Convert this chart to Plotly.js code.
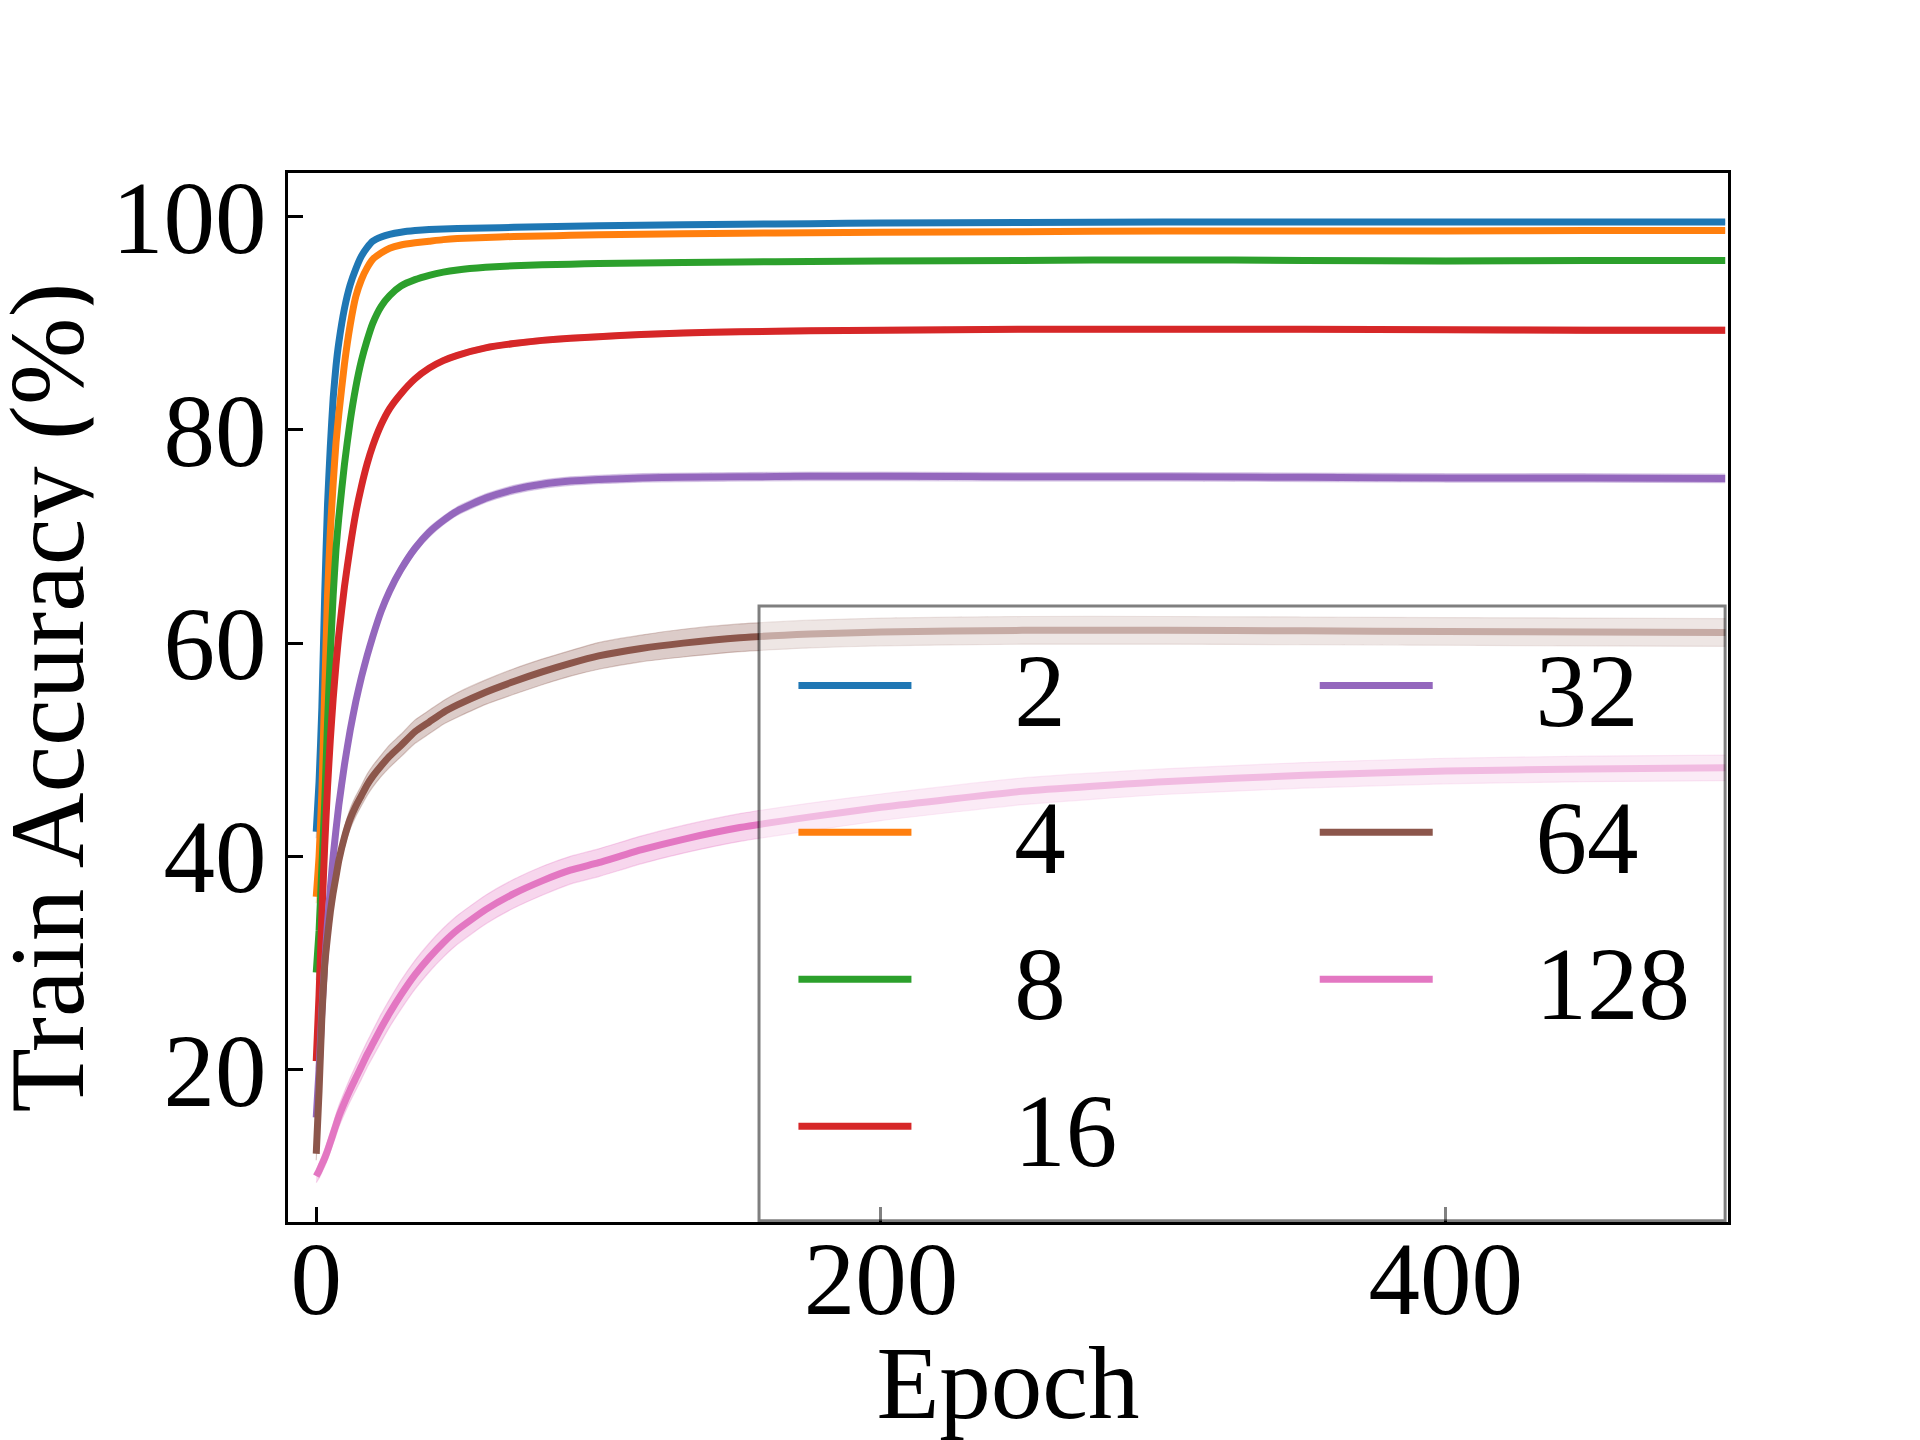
<!DOCTYPE html>
<html>
<head>
<meta charset="utf-8">
<script src="https://cdn.plot.ly/plotly-3.0.1.min.js"></script>
<style>
html,body{margin:0;padding:0;background:#ffffff;}
#chart{width:1920px;height:1440px;}
</style>
</head>
<body>
<div id="chart"></div>
<script>
// ---- data ----
const epochs = [0,1,2,3,4,5,6,7,8,10,12,14,16,18,20,23,26,30,35,40,45,50,60,70,80,90,100,115,130,150,175,200,250,300,350,400,450,499];

const seriesNames = ['2','4','8','16','32','64','128'];
const seriesColors = ['#1f77b4','#ff7f0e','#2ca02c','#d62728','#9467bd','#8c564b','#e377c2'];

const acc2 = [42.3,47,54,64.5,73,78.5,83,86,88.2,91.4,93.6,95.1,96.3,97.1,97.7,98.1,98.35,98.55,98.7,98.8,98.85,98.9,98.95,99.0,99.05,99.1,99.15,99.2,99.25,99.3,99.35,99.4,99.45,99.5,99.5,99.5,99.5,99.5];
const acc4 = [36.2,40,46,55.5,64.5,70.5,75,78.8,81.5,86.2,89.8,92.5,94.1,95.2,96.0,96.6,97.05,97.35,97.55,97.7,97.85,97.95,98.05,98.15,98.2,98.25,98.3,98.35,98.4,98.45,98.5,98.55,98.6,98.65,98.65,98.65,98.7,98.7];
const acc8 = [29.1,33,39,45,52.5,59,64.5,68.8,71.8,76.8,80.8,84,86.5,88.4,90.0,91.6,92.6,93.5,94.1,94.5,94.8,95.0,95.25,95.4,95.5,95.55,95.6,95.65,95.7,95.75,95.8,95.85,95.9,95.95,95.9,95.85,95.9,95.9];
const acc16 = [20.8,27,34.5,41,46.5,51,54.8,58,60.8,65.3,69,72.2,74.7,76.8,78.5,80.5,82.0,83.4,84.8,85.8,86.5,87.0,87.7,88.1,88.4,88.6,88.75,88.95,89.1,89.2,89.3,89.35,89.45,89.45,89.45,89.4,89.35,89.35];
const acc32 = [15.5,20,25.5,30,33.8,37,40,42.5,44.8,48.6,51.8,54.5,56.8,58.8,60.6,63.0,64.9,66.9,68.9,70.4,71.5,72.4,73.6,74.4,74.9,75.2,75.35,75.5,75.55,75.6,75.65,75.65,75.6,75.6,75.55,75.5,75.5,75.45];
const acc64 = [12.1,18,25,29.8,32.5,34.8,36.6,38.1,39.6,41.8,43.5,44.7,45.7,46.7,47.5,48.5,49.4,50.4,51.7,52.6,53.5,54.2,55.4,56.4,57.3,58.1,58.8,59.5,60.0,60.5,60.85,61.05,61.2,61.2,61.15,61.1,61.05,61.0];
const acc128 = [10.0,10.5,11.1,11.7,12.4,13.2,14.0,14.8,15.6,16.9,18.1,19.2,20.3,21.4,22.4,23.9,25.3,27.0,28.9,30.5,31.9,33.1,35.0,36.5,37.7,38.7,39.4,40.6,41.6,42.7,43.7,44.6,46.1,47.0,47.6,48.0,48.2,48.3];

// spread (± std)
const std2 = [0.6,0.6,0.6,0.5,0.5,0.45,0.4,0.35,0.3,0.3,0.25,0.25,0.2,0.2,0.2,0.2,0.2,0.15,0.15,0.15,0.15,0.15,0.15,0.15,0.15,0.15,0.15,0.15,0.15,0.15,0.15,0.15,0.15,0.15,0.15,0.15,0.15,0.15];
const std4 = [0.6,0.6,0.6,0.5,0.5,0.45,0.4,0.35,0.3,0.3,0.25,0.25,0.2,0.2,0.2,0.2,0.2,0.15,0.15,0.15,0.15,0.15,0.15,0.15,0.15,0.15,0.15,0.15,0.15,0.15,0.15,0.15,0.15,0.15,0.15,0.15,0.15,0.15];
const std8 = [0.7,0.7,0.6,0.6,0.5,0.5,0.45,0.4,0.4,0.35,0.3,0.3,0.3,0.25,0.25,0.25,0.2,0.2,0.2,0.2,0.2,0.2,0.2,0.2,0.2,0.2,0.2,0.2,0.2,0.2,0.2,0.2,0.2,0.2,0.25,0.25,0.25,0.25];
const std16 = [0.8,0.7,0.7,0.6,0.6,0.5,0.5,0.45,0.45,0.4,0.4,0.35,0.35,0.3,0.3,0.3,0.3,0.25,0.25,0.25,0.25,0.25,0.25,0.25,0.25,0.25,0.25,0.25,0.25,0.25,0.25,0.25,0.25,0.25,0.25,0.25,0.3,0.3];
const std32 = [0.8,0.7,0.6,0.6,0.55,0.55,0.5,0.5,0.5,0.5,0.5,0.5,0.5,0.5,0.45,0.45,0.45,0.45,0.45,0.45,0.4,0.4,0.4,0.4,0.4,0.4,0.4,0.4,0.4,0.4,0.4,0.4,0.4,0.4,0.4,0.4,0.4,0.4];
const std64 = [0.6,0.7,0.8,0.8,0.8,0.85,0.85,0.9,0.9,0.9,0.95,0.95,0.95,1.0,1.0,1.0,1.05,1.05,1.1,1.1,1.1,1.15,1.15,1.2,1.2,1.2,1.25,1.25,1.3,1.3,1.3,1.3,1.3,1.3,1.3,1.3,1.3,1.3];
const std128 = [0.6,0.7,0.75,0.8,0.85,0.9,0.95,1.0,1.0,1.05,1.1,1.15,1.2,1.2,1.25,1.3,1.3,1.35,1.35,1.35,1.35,1.35,1.35,1.35,1.35,1.3,1.3,1.3,1.3,1.3,1.3,1.25,1.25,1.2,1.2,1.2,1.2,1.2];

const xTicks = [0,200,400];
const yTicks = [20,40,60,80,100];
const xTitle = 'Epoch';
const yTitle = 'Train Accuracy (%)';

// ---- build traces ----
const means = [acc2,acc4,acc8,acc16,acc32,acc64,acc128];
const stds = [std2,std4,std8,std16,std32,std64,std128];

function rgba(hex, a){
  const r = parseInt(hex.slice(1,3),16), g = parseInt(hex.slice(3,5),16), b = parseInt(hex.slice(5,7),16);
  return 'rgba('+r+','+g+','+b+','+a+')';
}

const FONT = '"Liberation Serif", "Times New Roman", Times, serif';
// spacing between the legend handle and its label
const LABEL_PAD = '\u2002\u00a0\u2009';

const traces = [];
seriesNames.forEach(function(name, i){
  const c = seriesColors[i];
  const lo = means[i].map(function(v,k){return v - stds[i][k];});
  const hi = means[i].map(function(v,k){return v + stds[i][k];});
  const grp = 'g' + name;
  const lg = i < 4 ? 'legend' : 'legend2';
  traces.push({x: epochs, y: lo, type:'scatter', mode:'lines',
    line:{color: rgba(c,0.3), width:1.2, shape:'spline', smoothing:0.5},
    showlegend:false, legendgroup:grp, hoverinfo:'skip', legend: lg});
  traces.push({x: epochs, y: hi, type:'scatter', mode:'lines',
    line:{color: rgba(c,0.3), width:1.2, shape:'spline', smoothing:0.5},
    fill:'tonexty', fillcolor: rgba(c,0.3), showlegend:false, legendgroup:grp, hoverinfo:'skip', legend: lg});
  traces.push({x: epochs, y: means[i], type:'scatter', mode:'lines', name: LABEL_PAD + name,
    line:{color: c, width:7, shape:'spline', smoothing:0.5}, legendgroup:grp, legend: lg});
});

const legendCommon = {
  xref:'paper', yref:'paper', xanchor:'left', yanchor:'top',
  bgcolor:'rgba(0,0,0,0)', borderwidth:0,
  font:{family: FONT, size:103, color:'#000'},
  itemwidth: 113, tracegroupgap: 10, traceorder:'grouped'
};

const layout = {
  width:1920, height:1440,
  paper_bgcolor:'#ffffff', plot_bgcolor:'#ffffff',
  margin:{l:288, r:192, t:173, b:218, pad:0},
  font:{family: FONT, size:103, color:'#000'},
  showlegend:true,
  xaxis:{
    range:[-10,500], tickvals:xTicks, ticktext:xTicks.map(String),
    ticks:'inside', ticklen:15, tickwidth:3, tickcolor:'#000',
    showline:true, linewidth:3, linecolor:'#000', mirror:true,
    showgrid:false, zeroline:false,
    tickfont:{family: FONT, size:103, color:'#000'},
    ticklabelstandoff: -35,
    title:{text:xTitle, font:{family: FONT, size:103, color:'#000'}}
  },
  yaxis:{
    range:[5.7,104.1], tickvals:yTicks, ticktext:yTicks.map(String),
    ticks:'inside', ticklen:15, tickwidth:3, tickcolor:'#000',
    showline:true, linewidth:3, linecolor:'#000', mirror:true,
    showgrid:false, zeroline:false,
    tickfont:{family: FONT, size:103, color:'#000'},
    ticklabelstandoff: -2
  },
  annotations:[{
    text: yTitle, textangle:-90, showarrow:false, height:92,
    xref:'paper', yref:'paper', x:-0.16736, y:0.5, xanchor:'center', yanchor:'middle',
    font:{family: FONT, size:105, color:'#000'}
  }],
  legend: Object.assign({}, legendCommon, {x:0.351, y:0.5815}),
  legend2: Object.assign({}, legendCommon, {x:0.713, y:0.5815}),
  shapes:[{
    type:'rect', xref:'paper', yref:'paper', layer:'above',
    x0:0.3271, x1:0.998, y0:0.0012, y1:0.5872,
    fillcolor:'rgba(255,255,255,0.5)', line:{color:'rgba(0,0,0,0.5)', width:3}
  }]
};

Plotly.newPlot('chart', traces, layout, {staticPlot:true, displayModeBar:false});
</script>
</body>
</html>
